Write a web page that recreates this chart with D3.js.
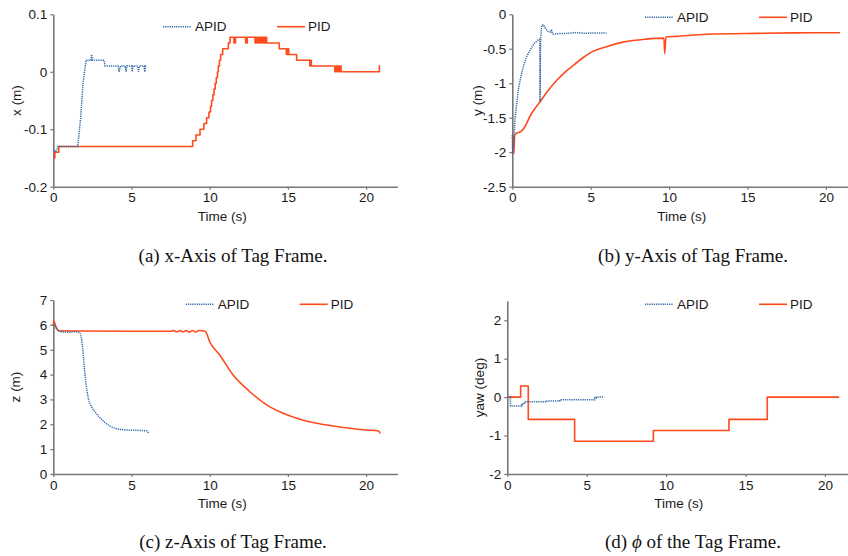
<!DOCTYPE html>
<html>
<head>
<meta charset="utf-8">
<script src="https://cdn.jsdelivr.net/npm/d3@7"></script>
<style>
  body { margin: 0; background: #fff; }
  svg { display: block; }
  .tick text { font-family: "Liberation Sans", Arial, sans-serif; font-size: 13.5px; fill: #1a1a1a; }
  .lbl { font-family: "Liberation Sans", Arial, sans-serif; font-size: 13.5px; fill: #1a1a1a; }
  .cap { font-family: "Liberation Serif", "Times New Roman", serif; font-size: 19px; fill: #111; }
</style>
</head>
<body>
<svg id="fig" width="848" height="556"></svg>
<script>
// ---- data: [time (s), value] ----
const timeTicks = [0, 5, 10, 15, 20]

// (a) x of tag frame
const xTicks = [-0.2, -0.1, 0, 0.1]
const xApid = [[0,-0.135],[0.15,-0.14],[0.3,-0.13],[1.56,-0.13],[1.75,-0.08],[1.9,-0.02],[2.0,0.0],[2.09,0.02],
  [2.4,0.02],[2.45,0.03],[2.5,0.02],[3.25,0.02],[3.3,0.01],[4.15,0.01],[4.2,0.0],[4.3,0.01],[4.6,0.01],[4.65,0.0],
  [4.7,0.01],[5.0,0.01],[5.05,0.0],[5.1,0.01],[5.4,0.01],[5.45,0.0],[5.5,0.01],[5.8,0.01],[5.85,0.0],[5.9,0.01],[6.0,0.01]]
const xPid = [[0,-0.15],[0.1,-0.14],[0.35,-0.13],[8.91,-0.12],[9.12,-0.11],[9.38,-0.10],[9.63,-0.09],[9.8,-0.08],
  [9.95,-0.07],[10.05,-0.06],[10.12,-0.05],[10.2,-0.04],[10.28,-0.03],[10.35,-0.02],[10.42,-0.01],[10.5,0.0],
  [10.55,0.01],[10.62,0.02],[10.7,0.03],[10.83,0.04],[11.19,0.05],[11.3,0.06],[11.55,0.05],[11.65,0.06],
  [12.3,0.05],[12.4,0.06],[12.9,0.05],[12.95,0.06],[13.05,0.05],[13.1,0.06],[13.2,0.05],[13.25,0.06],
  [13.35,0.05],[13.4,0.06],[13.5,0.05],[13.55,0.06],[13.64,0.05],[14.45,0.04],[14.9,0.03],[15.0,0.04],
  [15.05,0.03],[15.56,0.02],[16.4,0.01],[16.45,0.02],[16.5,0.01],[18.0,0.0],[18.1,0.01],[18.2,0.0],
  [18.3,0.01],[18.4,0.0],[20.85,0.01],[20.9,0.01]]

// (b) y of tag frame
const yTicks = [-2.5, -2, -1.5, -1, -0.5, 0]
const yApid = [[0,-1.75],[0.02,-2.02],[0.1,-1.8],[0.17,-1.53],[0.38,-1.10],[0.55,-0.9],[0.7,-0.76],[0.9,-0.62],
  [1.13,-0.52],[1.4,-0.42],[1.72,-0.36],[1.76,-0.36],[1.77,-1.27],[1.8,-0.4],[1.87,-0.16],[1.98,-0.15],
  [2.1,-0.2],[2.3,-0.25],[2.45,-0.26],[2.5,-0.22],[2.55,-0.27],[2.6,-0.285],[3.0,-0.28],[3.47,-0.276],
  [4.1,-0.265],[4.6,-0.275],[5.2,-0.27],[6.0,-0.27]]
const yPid = [[0,-1.8],[0.07,-1.77],[0.1,-2.02],[0.15,-1.76],[0.22,-1.73],[0.54,-1.70],[0.75,-1.65],[1.17,-1.46],
  [1.7,-1.29],[2.3,-1.1],[2.87,-0.95],[3.4,-0.83],[3.93,-0.735],[4.5,-0.63],[5.0,-0.555],[6.0,-0.47],
  [7.12,-0.40],[8.5,-0.36],[9.67,-0.345],[9.72,-0.57],[9.8,-0.33],[10.5,-0.32],[12.4,-0.29],[15.6,-0.276],
  [18.0,-0.27],[20.9,-0.267]]

// (c) z of tag frame
const zTicks = [0, 1, 2, 3, 4, 5, 6, 7]
const zApid = [[0,6.05],[0.1,5.95],[0.3,5.78],[0.5,5.72],[1.0,5.7],[1.3,5.72],[1.6,5.7],[1.71,5.66],[1.88,5.06],
  [2.03,3.98],[2.24,3.04],[2.45,2.7],[2.66,2.51],[3.2,2.13],[3.5,1.98],[3.95,1.84],[4.69,1.77],[5.6,1.75],
  [6.0,1.73],[6.1,1.63]]
const zPid = [[0,6.0],[0.05,6.15],[0.15,5.95],[0.4,5.76],[2,5.75],[5,5.74],[7.5,5.74],[7.7,5.77],[7.9,5.72],
  [8.1,5.77],[8.3,5.72],[8.5,5.77],[8.7,5.71],[8.9,5.77],[9.1,5.71],[9.3,5.77],[9.59,5.76],[9.75,5.72],
  [10.0,5.32],[10.64,4.79],[11.5,3.98],[12.57,3.31],[13.64,2.78],[14.7,2.44],[15.77,2.2],[16.84,2.04],
  [17.9,1.93],[18.97,1.84],[20.04,1.77],[20.8,1.73],[20.9,1.63]]

// (d) yaw of tag frame
const yawTicks = [-2, -1, 0, 1, 2]
const yawApid = [[0,0],[0.2,-0.23],[0.9,-0.2],[1.0,-0.15],[1.15,-0.12],[2.5,-0.1],[3.3,-0.07],[5.5,-0.02],[5.6,0],[6.1,0]]
const yawPid = [[0,0],[0.84,0.29],[1.32,-0.58],[4.24,-1.15],[9.2,-0.87],[13.96,-0.58],[16.37,0],[20.9,0]]

const blue = '#2e67a7'
const orange = '#ff4a1c'
const axisCol = '#777'

const svg = d3.select('#fig')

function drawPanel(p){
  const x = d3.scaleLinear().domain([0, 22]).range([p.left, p.left + 22 * p.xUnit])
  const y = d3.scaleLinear().domain(p.yDomain).range([p.bottom, p.top])
  const g = svg.append('g')

  const ax = g.append('g')
    .attr('transform', 'translate(0,' + p.bottom + ')')
    .call(d3.axisBottom(x).tickValues(timeTicks).tickSize(3).tickSizeOuter(0).tickFormat(d => String(d)))
  const ay = g.append('g')
    .attr('transform', 'translate(' + p.left + ',0)')
    .call(d3.axisLeft(y).tickValues(p.ticks).tickSize(3).tickSizeOuter(0).tickFormat(d => String(d)))
  ;[ax, ay].forEach(a => {
    a.select('.domain').attr('stroke', axisCol).attr('stroke-width', 1.6)
    a.selectAll('.tick line').attr('stroke', axisCol).attr('stroke-width', 1.2)
  })

  // step panels use stepAfter for PID, smooth panels use monotone
  const pidCurve = p.step ? d3.curveStepAfter : d3.curveMonotoneX
  const apidCurve = p.apidCurve || pidCurve
  const line = c => d3.line().x(d => x(d[0])).y(d => y(d[1])).curve(c)

  g.append('path').datum(p.pid)
    .attr('fill', 'none').attr('stroke', orange).attr('stroke-width', 1.6)
    .attr('stroke-linejoin', 'round').attr('d', line(pidCurve))
  g.append('path').datum(p.apid)
    .attr('fill', 'none').attr('stroke', blue).attr('stroke-width', 1.5)
    .attr('stroke-dasharray', '1.2,1').attr('d', line(apidCurve))

  // legend
  const lg = g.append('g').attr('transform', 'translate(' + p.legend[0] + ',' + p.legend[1] + ')')
  lg.append('line').attr('x1', 0).attr('x2', 28).attr('stroke', blue).attr('stroke-width', 1.5).attr('stroke-dasharray', '1.2,1')
  lg.append('text').attr('class', 'lbl').attr('x', 32).attr('dy', '0.35em').text('APID')
  lg.append('line').attr('x1', 114).attr('x2', 142).attr('stroke', orange).attr('stroke-width', 1.6)
  lg.append('text').attr('class', 'lbl').attr('x', 145).attr('dy', '0.35em').text('PID')

  g.append('text').attr('class', 'lbl').attr('text-anchor', 'middle')
    .attr('x', x(10.8)).attr('y', p.bottom + 34).text('Time (s)')
  g.append('text').attr('class', 'lbl').attr('text-anchor', 'middle')
    .attr('transform', 'translate(' + p.ylabX + ',' + ((p.top + p.bottom) / 2) + ') rotate(-90)')
    .attr('dy', '0.35em').text(p.ylab)

  g.append('text').attr('class', 'cap').attr('text-anchor', 'middle')
    .attr('x', p.capX).attr('y', p.capY).html(p.caption)
}

drawPanel({left: 53.3, xUnit: 15.64, top: 14.3, bottom: 186.7, yDomain: [-0.2, 0.1], ticks: xTicks,
  apid: xApid, pid: xPid, step: true, apidCurve: d3.curveLinear, legend: [163, 26.7], ylab: 'x (m)', ylabX: 16.5,
  capX: 233, capY: 262, caption: '(a) x-Axis of Tag Frame.'})
drawPanel({left: 512.3, xUnit: 15.68, top: 14.3, bottom: 186.7, yDomain: [-2.5, 0], ticks: yTicks,
  apid: yApid, pid: yPid, step: false, apidCurve: d3.curveLinear, legend: [645, 17.3], ylab: 'y (m)', ylabX: 477,
  capX: 693, capY: 262, caption: '(b) y-Axis of Tag Frame.'})
drawPanel({left: 53.3, xUnit: 15.64, top: 300, bottom: 474, yDomain: [0, 7], ticks: zTicks,
  apid: zApid, pid: zPid, step: false, legend: [185.7, 304.3], ylab: 'z (m)', ylabX: 15.5,
  capX: 233, capY: 548, caption: '(c) z-Axis of Tag Frame.'})
drawPanel({left: 507.3, xUnit: 15.88, top: 301, bottom: 474, yDomain: [-2, 2.5], ticks: yawTicks,
  apid: yawApid, pid: yawPid, step: true, legend: [645, 304.3], ylab: 'yaw (deg)', ylabX: 479,
  capX: 693, capY: 548, caption: '(d) <tspan font-style="italic">ϕ</tspan> of the Tag Frame.'})
</script>
</body>
</html>
